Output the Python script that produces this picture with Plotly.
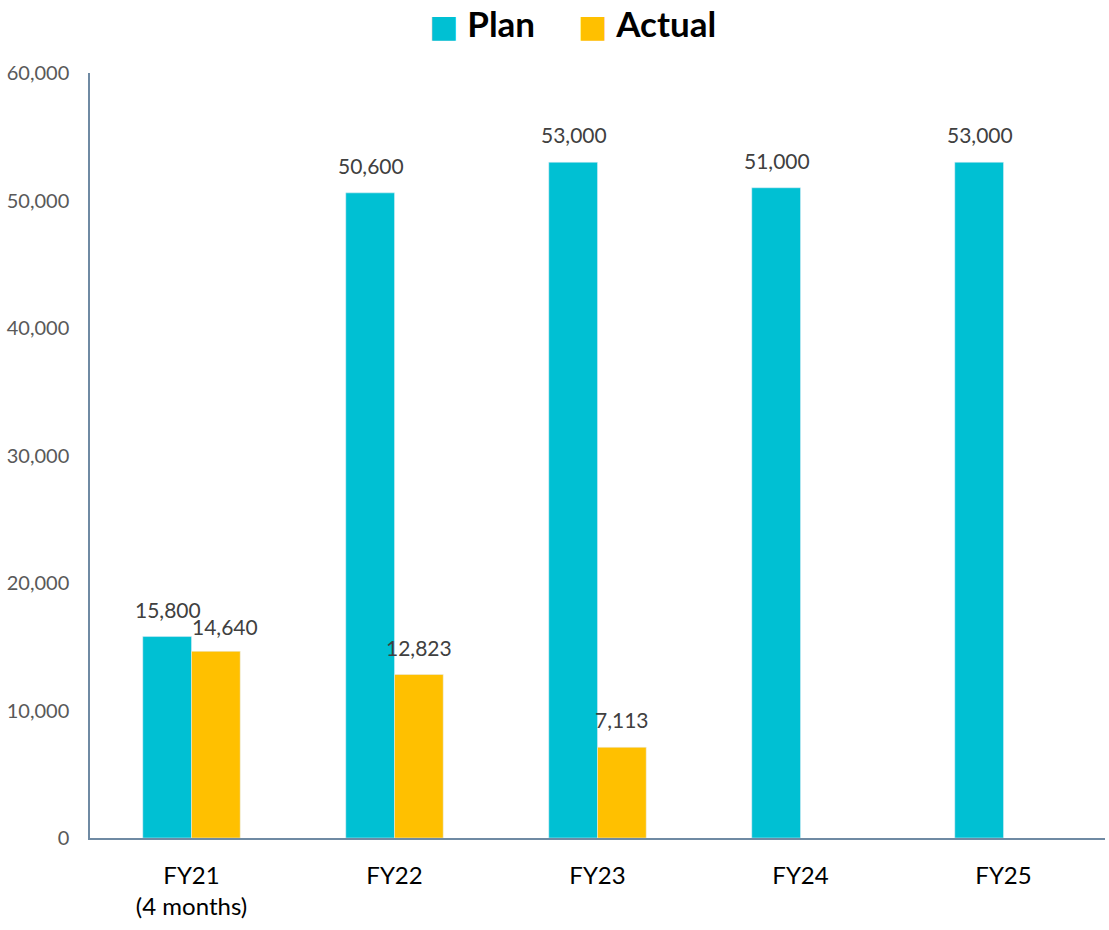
import plotly.graph_objects as go

categories = ["FY21<br>(4 months)", "FY22", "FY23", "FY24", "FY25"]
plan = [15800, 50600, 53000, 51000, 53000]
actual = [14640, 12823, 7113, None, None]
y_ticks = [0, 10000, 20000, 30000, 40000, 50000, 60000]
y_tick_labels = ["0", "10,000", "20,000", "30,000", "40,000", "50,000", "60,000"]
series_names = ["Plan", "Actual"]

PLAN_COLOR = "#00C0D3"
ACTUAL_COLOR = "#FFC000"
FONT = "Lato"
LABEL_FONT = dict(family=FONT, size=21, color="#404040")

fig = go.Figure()
fig.add_trace(go.Bar(x=categories, y=plan, name="Plan", marker_color=PLAN_COLOR,
                     offsetgroup="plan", showlegend=False))
fig.add_trace(go.Bar(x=categories, y=actual, name="Actual", marker_color=ACTUAL_COLOR,
                     offsetgroup="actual", showlegend=False))

# value labels above bars
for cat, v in zip(categories, plan):
    fig.add_annotation(x=cat, y=v, xref="x", yref="y", text=f"{v:,}", showarrow=False,
                       xanchor="center", yanchor="bottom", xshift=-24, yshift=13,
                       font=LABEL_FONT)
for i, (cat, v) in enumerate(zip(categories, actual)):
    if v is None:
        continue
    fig.add_annotation(x=cat, y=v, xref="x", yref="y", text=f"{v:,}", showarrow=False,
                       xanchor="center", yanchor="bottom",
                       xshift=33 if i == 0 else 24, yshift=13 if i else 10,
                       font=LABEL_FONT)

# legend drawn as text
legend_items = [(series_names[0], PLAN_COLOR, 0.332), (series_names[1], ACTUAL_COLOR, 0.479)]
for name, col, xp in legend_items:
    fig.add_annotation(
        x=xp, y=1.066, xref="paper", yref="paper", xanchor="left", yanchor="middle",
        showarrow=False,
        text=f"<span style='color:{col};font-size:31px;font-family:DejaVu Sans'>■</span> <b>{name}</b>",
        font=dict(family=FONT, size=35, color="black"),
    )

fig.update_layout(
    width=1109, height=930,
    margin=dict(l=90, r=4, t=73, b=92, autoexpand=False),
    paper_bgcolor="white", plot_bgcolor="white",
    barmode="group", bargap=0.52, bargroupgap=0,
    font=dict(family=FONT),
    showlegend=False,
    xaxis=dict(
        showline=True, linecolor="#6F8AA3", linewidth=1.5,
        showgrid=False, ticks="", automargin=False,
        tickfont=dict(family=FONT, size=24, color="black"),
        ticklabelstandoff=15,
    ),
    yaxis=dict(
        range=[0, 60000], tickvals=y_ticks, ticktext=y_tick_labels,
        showline=True, linecolor="#6F8AA3", linewidth=1.5, automargin=False,
        showgrid=False, zeroline=False, ticks="",
        tickfont=dict(family=FONT, size=20, color="#595959"),
        ticklabelstandoff=15,
    ),
)

fig.write_html("out.html")
